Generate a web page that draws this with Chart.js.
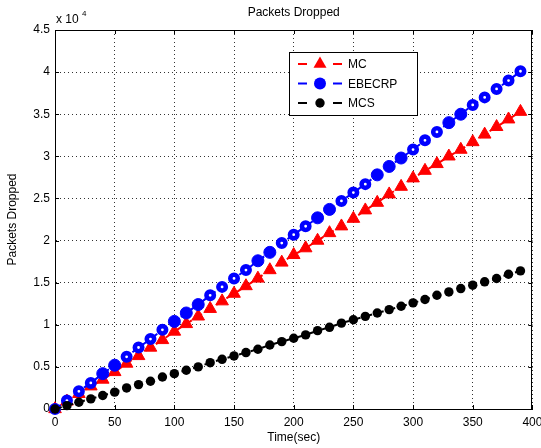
<!DOCTYPE html>
<html>
<head>
<meta charset="utf-8">
<title>Packets Dropped</title>
<script src="https://cdn.jsdelivr.net/npm/chart.js@4.4.1/dist/chart.umd.min.js"></script>
<style>
  html, body { margin: 0; padding: 0; background: #fff; overflow: hidden; }
  #wrap { width: 541px; height: 448px; }
</style>
</head>
<body>
<div id="wrap"><canvas id="dropChart" width="541" height="448"></canvas></div>
<script>
// --- data (packets, x axis in seconds) ---
const timeSec = [0, 10, 20, 30, 40, 50, 60, 70, 80, 90, 100, 110, 120, 130, 140, 150, 160, 170, 180, 190,
                 200, 210, 220, 230, 240, 250, 260, 270, 280, 290, 300, 310, 320, 330, 340, 350, 360, 370, 380, 390];

const mcDropped = [0, 900, 1800, 2700, 3500, 4400, 5400, 6300, 7300, 8200, 9200, 10100, 11000, 11900, 12800, 13700,
                   14600, 15500, 16500, 17400, 18300, 19100, 20000, 20900, 21700, 22600, 23600, 24500, 25500, 26400,
                   27400, 28300, 29100, 30000, 30800, 31700, 32600, 33500, 34400, 35300];

const ebecrpDropped = [0, 1000, 2100, 3100, 4200, 5200, 6200, 7300, 8300, 9400, 10400, 11400, 12400, 13500, 14500, 15500,
                       16500, 17600, 18600, 19700, 20700, 21700, 22700, 23700, 24700, 25700, 26700, 27800, 28800, 29800,
                       30800, 31900, 32900, 34000, 35000, 36100, 37000, 38000, 39000, 40100];

const mcsDropped = [0, 400, 800, 1200, 1600, 2000, 2500, 2900, 3300, 3800, 4200, 4600, 5000, 5500, 5900, 6300,
                    6700, 7100, 7600, 8000, 8400, 8800, 9300, 9700, 10200, 10600, 11000, 11400, 11800, 12200,
                    12600, 13000, 13500, 13900, 14300, 14700, 15100, 15500, 16000, 16400];

const seriesNames = ['MC', 'EBECRP', 'MCS'];
const xTicks = [0, 50, 100, 150, 200, 250, 300, 350, 400];
const yTicks = ['0', '0.5', '1', '1.5', '2', '2.5', '3', '3.5', '4', '4.5'];

// the blue markers look solid at these times, ring-like elsewhere
const ebecrpSolidAt = [40, 50, 100, 110, 120, 170, 180, 220, 230, 270, 280, 290, 330, 340];

const FONT = "'Liberation Sans', Arial, Helvetica, sans-serif";
Chart.defaults.font.family = FONT;
Chart.defaults.font.size = 12;
Chart.defaults.color = '#000';

const toPts = (ys) => timeSec.map((t, i) => ({ x: t, y: ys[i] }));

const dotted = { color: 'rgba(0,0,0,0.8)', lineWidth: 1, drawTicks: false };

// --- frame, inward ticks, exponent label and legend ---
const matlabBits = {
    id: 'matlabBits',
    beforeDatasetsDraw(chart) {
        const { ctx, chartArea: a, scales: { x, y } } = chart;
        ctx.save();
        ctx.strokeStyle = '#000';
        ctx.lineWidth = 1;
        ctx.setLineDash([]);
        ctx.strokeRect(Math.round(a.left) + 0.5, Math.round(a.top) + 0.5,
                       Math.round(a.right - a.left) - 1, Math.round(a.bottom - a.top));
        ctx.beginPath();
        xTicks.forEach(v => {
            const px = Math.round(x.getPixelForValue(v)) + 0.5;
            ctx.moveTo(px, a.bottom); ctx.lineTo(px, a.bottom - 4);
            ctx.moveTo(px, a.top); ctx.lineTo(px, a.top + 4);
        });
        yTicks.forEach((_, i) => {
            const py = Math.round(y.getPixelForValue(i * 5000)) + 0.5;
            ctx.moveTo(a.left, py); ctx.lineTo(a.left + 4, py);
            ctx.moveTo(a.right, py); ctx.lineTo(a.right - 4, py);
        });
        ctx.stroke();
        ctx.restore();
    },
    afterDraw(chart) {
        const { ctx, chartArea: a } = chart;
        ctx.save();
        // x 10^4
        ctx.fillStyle = '#000';
        ctx.textBaseline = 'alphabetic';
        ctx.font = '12px ' + FONT;
        ctx.fillText('x 10', a.left + 1, 23);
        ctx.font = '8px ' + FONT;
        ctx.fillText('4', a.left + 27, 16);

        // legend
        const bx = 289, by = 52, bw = 128, bh = 63;
        ctx.fillStyle = '#fff';
        ctx.fillRect(bx, by, bw, bh);
        ctx.strokeStyle = '#000';
        ctx.lineWidth = 1;
        ctx.strokeRect(bx + 0.5, by + 0.5, bw, bh);

        const rows = [64, 83.5, 103];
        chart.data.datasets.forEach((ds, i) => {
            const cy = rows[i];
            ctx.strokeStyle = ds.borderColor;
            ctx.lineWidth = 2;
            ctx.beginPath();
            ctx.moveTo(298, cy); ctx.lineTo(307, cy);
            ctx.moveTo(333, cy); ctx.lineTo(342, cy);
            ctx.stroke();
            ctx.fillStyle = ds.borderColor;
            ctx.beginPath();
            if (ds.pointStyle === 'triangle') {
                const r = 7.5;
                ctx.moveTo(320, cy - r);
                ctx.lineTo(320 + r * 0.866, cy + r / 2);
                ctx.lineTo(320 - r * 0.866, cy + r / 2);
                ctx.closePath();
            } else {
                ctx.arc(320, cy, ds.legendR, 0, Math.PI * 2);
            }
            ctx.fill();
            ctx.fillStyle = '#000';
            ctx.font = '12px ' + FONT;
            ctx.textBaseline = 'middle';
            ctx.fillText(ds.label, 348, cy + 1);
        });
        ctx.restore();
    }
};

new Chart(document.getElementById('dropChart'), {
    type: 'line',
    data: {
        datasets: [
            {
                label: seriesNames[0],
                data: toPts(mcDropped),
                borderColor: '#ff0000',
                backgroundColor: '#ff0000',
                borderWidth: 2,
                borderDash: [7, 5],
                pointStyle: 'triangle',
                pointRadius: 7.3,
                pointBorderWidth: 1,
                pointBackgroundColor: '#ff0000',
                pointBorderColor: '#ff0000',
                tension: 0,
                clip: false,
                order: 3
            },
            {
                label: seriesNames[1],
                data: toPts(ebecrpDropped),
                borderColor: '#0000ff',
                backgroundColor: '#0000ff',
                borderWidth: 2,
                borderDash: [7, 5],
                pointStyle: 'circle',
                pointRadius: timeSec.map(t => ebecrpSolidAt.includes(t) ? 6 : 3.7),
                pointBorderWidth: timeSec.map(t => ebecrpSolidAt.includes(t) ? 1 : 4.6),
                pointBackgroundColor: timeSec.map(t => ebecrpSolidAt.includes(t) ? '#0000ff' : '#ffffff'),
                pointBorderColor: '#0000ff',
                legendR: 6,
                tension: 0,
                clip: false,
                order: 2
            },
            {
                label: seriesNames[2],
                data: toPts(mcsDropped),
                borderColor: '#000000',
                backgroundColor: '#000000',
                borderWidth: 2,
                borderDash: [7, 5],
                pointStyle: 'circle',
                pointRadius: 4.7,
                pointBorderWidth: 0,
                pointBackgroundColor: '#000000',
                legendR: 4.7,
                tension: 0,
                clip: false,
                order: 1
            }
        ]
    },
    options: {
        responsive: false,
        animation: false,
        devicePixelRatio: 1,
        layout: { padding: { top: 0, left: 0, right: 1, bottom: 0 } },
        plugins: {
            legend: { display: false },
            tooltip: { enabled: false },
            title: {
                display: true,
                text: 'Packets Dropped',
                fullSize: false,
                color: '#000',
                font: { size: 12, weight: 'normal' },
                padding: { top: 5, bottom: 10.6 }
            }
        },
        scales: {
            x: {
                type: 'linear',
                min: 0,
                max: 400,
                afterBuildTicks: (s) => { s.ticks = xTicks.map(v => ({ value: v })); },
                afterFit: (s) => { s.height = 39; s.paddingLeft = 0; s.paddingRight = 0; },
                ticks: { padding: 6, maxRotation: 0, autoSkip: false, color: '#000', font: { size: 12 } },
                grid: dotted,
                border: { display: true, color: '#000', dash: [1, 3] },
                title: { display: true, text: 'Time(sec)', color: '#000', font: { size: 12 }, padding: { top: 0, bottom: 3 } }
            },
            y: {
                min: 0,
                max: 45000,
                afterBuildTicks: (s) => { s.ticks = yTicks.map((_, i) => ({ value: i * 5000 })); },
                afterFit: (s) => { s.width = 55; s.paddingTop = 0; s.paddingBottom = 0; },
                ticks: {
                    padding: 5,
                    autoSkip: false,
                    color: '#000',
                    font: { size: 12 },
                    callback: (v, i) => yTicks[i]
                },
                grid: dotted,
                border: { display: true, color: '#000', dash: [1, 3] },
                title: { display: true, text: 'Packets Dropped', color: '#000', font: { size: 12 }, padding: { top: 5, bottom: 0 } }
            }
        }
    },
    plugins: [matlabBits]
});
</script>
</body>
</html>
